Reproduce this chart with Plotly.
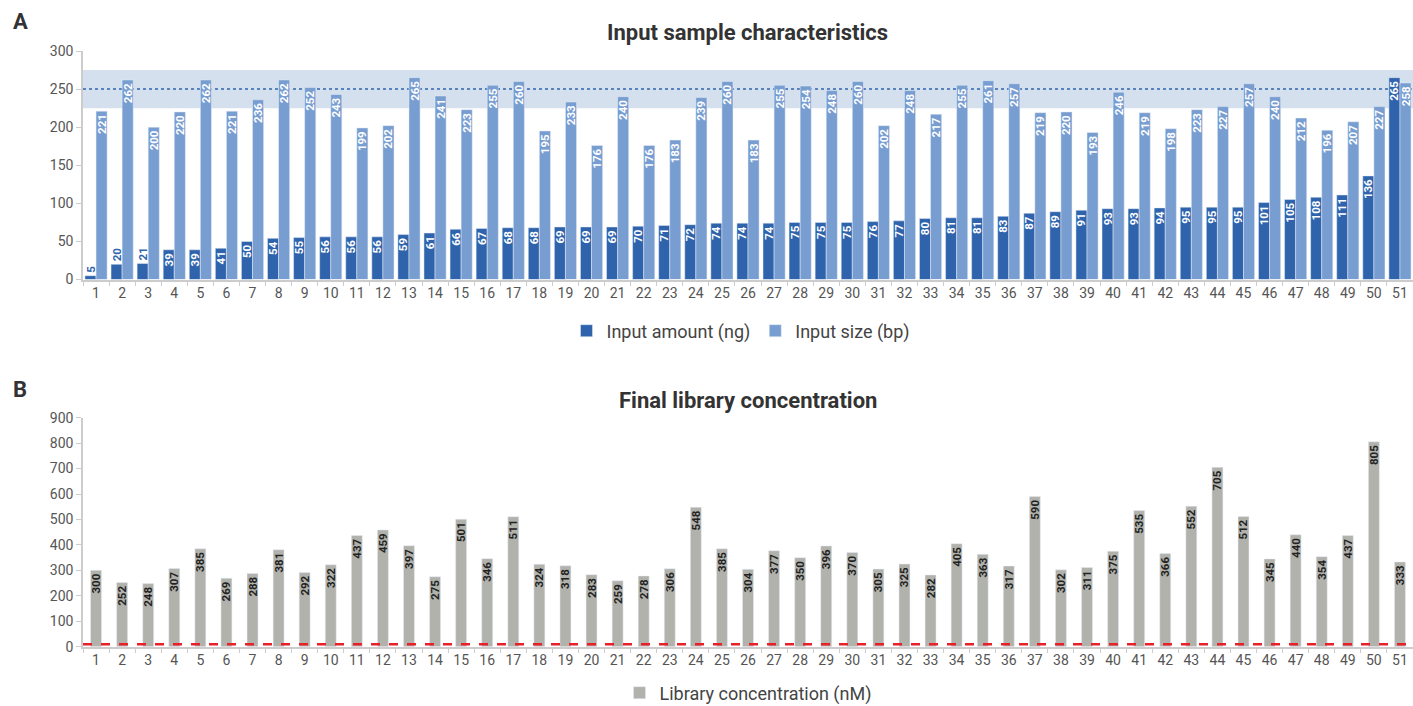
import plotly.graph_objects as go

samples = [str(i) for i in range(1, 52)]
input_amount_ng = [5, 20, 21, 39, 39, 41, 50, 54, 55, 56, 56, 56, 59, 61, 66, 67, 68, 68, 69, 69,
                   69, 70, 71, 72, 74, 74, 74, 75, 75, 75, 76, 77, 80, 81, 81, 83, 87, 89, 91, 93,
                   93, 94, 95, 95, 95, 101, 105, 108, 111, 136, 265]
input_size_bp = [221, 262, 200, 220, 262, 221, 236, 262, 252, 243, 199, 202, 265, 241, 223, 255, 260,
                 195, 233, 176, 240, 176, 183, 239, 260, 183, 255, 254, 248, 260, 202, 248, 217, 255,
                 261, 257, 219, 220, 193, 246, 219, 198, 223, 227, 257, 240, 212, 196, 207, 227, 258]
library_conc_nM = [300, 252, 248, 307, 385, 269, 288, 381, 292, 322, 437, 459, 397, 275, 501, 346, 511,
                   324, 318, 283, 259, 278, 306, 548, 385, 304, 377, 350, 396, 370, 305, 325, 282, 405,
                   363, 317, 590, 302, 311, 375, 535, 366, 552, 705, 512, 345, 440, 354, 437, 805, 333]

target_size = 250
size_band = [225, 275]
min_conc = 10

DARK = "#2F64AD"
LIGHT = "#789DD0"
BAND = "#D5E0EE"
GREY = "#B2B2AC"
TICK = "#555555"
AXIS = "#CCCCCC"
LABEL_FONT = "Liberation Sans Narrow, Arial Narrow, Roboto, sans-serif"
FONT = "Roboto, Liberation Sans, sans-serif"

W, H = 1413, 706

fig = go.Figure()

fig.add_trace(go.Bar(
    x=samples, y=input_amount_ng, name="Input amount (ng)", marker_color=DARK,
    text=[str(v) for v in input_amount_ng],
    textposition=["outside" if v < 30 else "inside" for v in input_amount_ng],
    textangle=-90, insidetextanchor="end", constraintext="none",
    insidetextfont=dict(color="white", size=11.5, family=LABEL_FONT, weight="bold"),
    outsidetextfont=dict(color=DARK, size=11.5, family=LABEL_FONT, weight="bold"),
    xaxis="x", yaxis="y", legend="legend", cliponaxis=False,
))
fig.add_trace(go.Bar(
    x=samples, y=input_size_bp, name="Input size (bp)", marker_color=LIGHT,
    text=[str(v) for v in input_size_bp], textposition="inside", textangle=-90,
    insidetextanchor="end", constraintext="none",
    insidetextfont=dict(color="white", size=11.5, family=LABEL_FONT, weight="bold"),
    xaxis="x", yaxis="y", legend="legend",
))
fig.add_trace(go.Bar(
    x=samples, y=library_conc_nM, name="Library concentration (nM)", marker_color=GREY,
    text=[str(v) for v in library_conc_nM], textposition="inside", textangle=-90,
    insidetextanchor="end", constraintext="none",
    insidetextfont=dict(color="#222222", size=11.5, family=LABEL_FONT, weight="bold"),
    xaxis="x2", yaxis="y2", legend="legend2", width=0.42,
))

axis_common = dict(
    showline=True, linecolor=AXIS, linewidth=1.5, ticks="outside", tickcolor=AXIS,
    ticklen=5, tickwidth=1, showgrid=False, zeroline=False,
    tickfont=dict(size=14, color=TICK, family=FONT), automargin=False,
)

fig.update_layout(
    width=W, height=H, margin=dict(l=0, r=0, t=0, b=0, autoexpand=False),
    plot_bgcolor="white", paper_bgcolor="white",
    barmode="group", bargap=0.15, bargroupgap=0,
    font=dict(family=FONT, color=TICK),
    xaxis=dict(domain=[83 / W, 1.0], anchor="y", type="category", tickson="boundaries",
               range=[-0.5, 50.5], **axis_common),
    yaxis=dict(domain=[1 - 279.5 / H, 1 - 51 / H], anchor="x", range=[0, 300],
               tickvals=list(range(0, 301, 50)), **axis_common),
    xaxis2=dict(domain=[83 / W, 1.0], anchor="y2", type="category", tickson="boundaries",
                range=[-0.5, 50.5], **axis_common),
    yaxis2=dict(domain=[1 - 646.7 / H, 1 - 417.7 / H], anchor="x2", range=[0, 900],
                tickvals=list(range(0, 901, 100)), **axis_common),
    legend=dict(orientation="h", x=741 / W, xanchor="center", y=1 - 331 / H, yanchor="middle",
                font=dict(size=18, color="#444444", family=FONT), itemwidth=30,
                traceorder="normal", bgcolor="rgba(0,0,0,0)"),
    legend2=dict(orientation="h", x=748 / W, xanchor="center", y=1 - 693 / H, yanchor="middle",
                 font=dict(size=18, color="#444444", family=FONT), itemwidth=30,
                 bgcolor="rgba(0,0,0,0)"),
    shapes=[
        dict(type="rect", xref="x domain", yref="y", x0=0, x1=1, y0=size_band[0], y1=size_band[1],
             fillcolor=BAND, line_width=0, layer="below"),
        dict(type="line", xref="x domain", yref="y", x0=0, x1=1, y0=target_size, y1=target_size,
             line=dict(color=DARK, width=1.5, dash="dot"), layer="below"),
        dict(type="line", xref="x2 domain", yref="y2", x0=0, x1=1, y0=min_conc, y1=min_conc,
             line=dict(color="#E8202A", width=2.5, dash="dash"), layer="above"),
    ],
    annotations=[
        dict(text="<b>Input sample characteristics</b>", xref="paper", yref="paper",
             x=748 / W, y=1 - 32 / H, xanchor="center", yanchor="middle", showarrow=False,
             font=dict(size=22, color="#333333", family=FONT, weight=900)),
        dict(text="<b>Final library concentration</b>", xref="paper", yref="paper",
             x=748 / W, y=1 - 400 / H, xanchor="center", yanchor="middle", showarrow=False,
             font=dict(size=22, color="#333333", family=FONT, weight=900)),
        dict(text="<b>A</b>", xref="paper", yref="paper", x=11 / W, y=1 - 21 / H,
             xanchor="left", yanchor="middle", showarrow=False,
             font=dict(size=22, color="#333333", family=FONT, weight=900)),
        dict(text="<b>B</b>", xref="paper", yref="paper", x=11 / W, y=1 - 389 / H,
             xanchor="left", yanchor="middle", showarrow=False,
             font=dict(size=22, color="#333333", family=FONT, weight=900)),
    ],
)

fig.write_html("out.html", config={"displayModeBar": False},
               post_script="document.body.style.margin='0';document.body.style.overflow='hidden';")
